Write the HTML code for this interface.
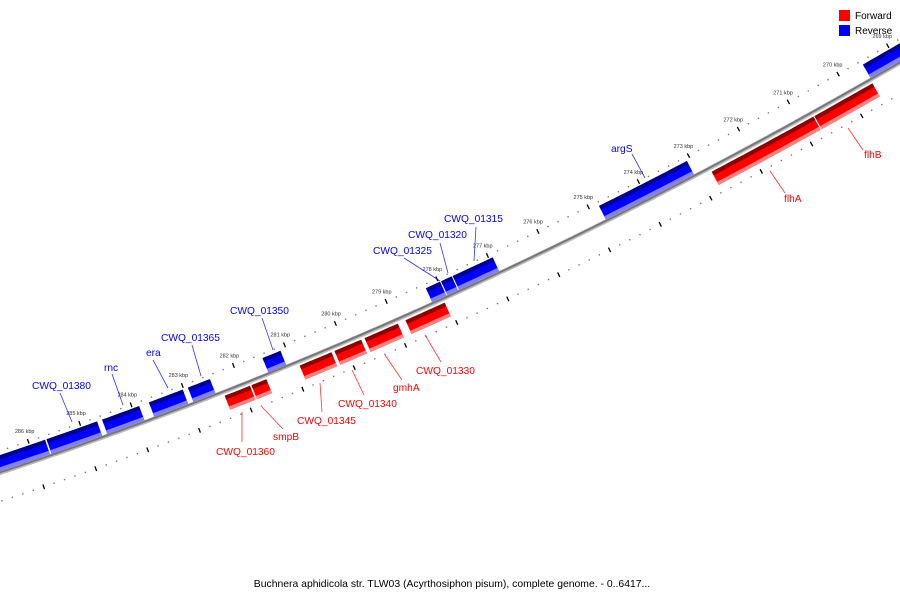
<!DOCTYPE html>
<html><head><meta charset="utf-8"><style>
html,body{margin:0;padding:0;background:#fff}
svg{display:block;font-family:"Liberation Sans","DejaVu Sans",sans-serif}
</style></head><body>
<svg id="map" width="900" height="600" viewBox="0 0 900 600">
<g id="ticks"></g>
<g id="backbone"></g>
<g id="genes"></g>
<g id="labels"></g>
<g>
<rect x="839" y="10" width="11" height="11" fill="#ff0000"/>
<text x="855" y="19" font-size="10" fill="#000">Forward</text>
<rect x="839" y="25" width="11" height="11" fill="#0000ff"/>
<text x="855" y="34" font-size="10" fill="#000">Reverse</text>
</g>
<text x="452" y="587" font-size="10.4" text-anchor="middle" fill="#000">Buchnera aphidicola str. TLW03 (Acyrthosiphon pisum), complete genome. - 0..6417...</text>
</svg>
<script>
// data (kbp)
const revNames=["","CWQ_01380","rnc","era","CWQ_01365","CWQ_01350","CWQ_01325","CWQ_01320","CWQ_01315","argS",""];
const revStart=[286.7,285.67,284.59,283.68,282.92,281.46,278.25,277.95,277.72,274.82,269.54];
const revEnd=[285.7,284.69,283.87,283.02,282.49,281.11,277.97,277.74,276.93,273.07,268.8];
const fwdNames=["CWQ_01360","smpB","CWQ_01345","CWQ_01340","gmhA","CWQ_01330","flhA","flhB"];
const fwdStart=[282.35,281.83,280.89,280.21,279.62,278.82,272.77,270.72];
const fwdEnd=[281.86,281.54,280.27,279.69,278.97,278.05,270.74,269.56];
const tickLabels=[286,285,284,283,282,281,280,279,278,277,276,275,274,273,272,271,270,269];

const NS="http://www.w3.org/2000/svg";
const A=473,B=-0.3315,C=-0.000138;
function bx(k){const d=286-k;return 35+51.8*d-0.06*d*d;}
function pt(k,r){const x=bx(k);const y=A+B*x+C*x*x;const m=B+2*C*x;const n=Math.sqrt(1+m*m);return [x+r*m/n,y-r/n];}
function mk(tag,attrs,parent){const e=document.createElementNS(NS,tag);for(const a in attrs)e.setAttribute(a,attrs[a]);parent.appendChild(e);return e;}
function band(k0,k1,r0,r1){const pts=[];const n=Math.max(4,Math.ceil(Math.abs(k1-k0)*10));for(let i=0;i<=n;i++){pts.push(pt(k0+(k1-k0)*i/n,r1));}for(let i=n;i>=0;i--){pts.push(pt(k0+(k1-k0)*i/n,r0));}return pts.map(p=>p[0].toFixed(1)+","+p[1].toFixed(1)).join(" ");}

// backbone
const bb=document.getElementById('backbone');
let d1="";for(let k=288;k>=267;k-=0.1){const p=pt(k,0);d1+=(d1?"L":"M")+p[0].toFixed(1)+","+p[1].toFixed(1);}
let e=mk('path',{d:d1,stroke:'#bbbbbb','stroke-width':4,fill:'none'},bb);


e=mk('path',{d:d1,stroke:'#777777','stroke-width':2,fill:'none',transform:'translate(0,-0.6)'},bb);



// tick rings
const tg=document.getElementById('ticks');
for(let i=0;i<=100;i++){const k=288-i*0.2;const major=Math.abs(k-Math.round(k))<0.01;
 [21,-27].forEach(r=>{
  if(major){const a=pt(k,r+2.5),b=pt(k,r-2.5);e=mk('line',{x1:a[0],y1:a[1],x2:b[0],y2:b[1],stroke:'#000','stroke-width':1.3},tg);
   
   }
  else{const a=pt(k,r);e=mk('circle',{cx:a[0],cy:a[1],r:0.8,fill:'#777'},tg);
   
   }
 });}
tickLabels.forEach(k=>{const p=pt(k,32);e=mk('text',{x:p[0],y:p[1]+2,'font-size':5.5,'text-anchor':'middle',fill:'#333'},tg);e.textContent=k+" kbp";
 
 });

// genes
const gg=document.getElementById('genes');
function gene(s,en,rIn,rOut,cols,name){
 const g=mk('g',{},gg);
 
 
 const lo=Math.min(rIn,rOut),hi=Math.max(rIn,rOut);
 mk('polygon',{points:band(s,en,lo,hi),fill:cols[1]},g);
 mk('polygon',{points:band(s,en,hi-4,hi),fill:cols[0]},g);
 mk('polygon',{points:band(s,en,lo,lo+3.5),fill:cols[2]},g);
}
revStart.forEach((s,i)=>gene(s,revEnd[i],2,17,['#00008b','#0000ff','#8080ff'],revNames[i]));
fwdStart.forEach((s,i)=>gene(s,fwdEnd[i],-19,-4,['#8b0000','#ff0000','#ff8080'],fwdNames[i]));

// labels (annotation positions)
const lab=[
["CWQ_01380",32,389,60,393,72,422,'#0000ff'],["rnc",104,371,112,374,123,405,'#0000ff'],["era",146,356,153,360,168,388,'#0000ff'],
["CWQ_01365",161,341,192,345,201,376,'#0000ff'],["CWQ_01350",230,314,262,318,273,350,'#0000ff'],["CWQ_01325",373,254,404,258,440,281,'#0000ff'],
["CWQ_01320",408,238,440,243,448,273,'#0000ff'],["CWQ_01315",444,222,476,227,474,261,'#0000ff'],["argS",611,152,632,154,645,178,'#0000ff'],
["CWQ_01360",216,455,242,412,242,442,'#ff0000'],["smpB",273,440,262,407,283,429,'#ff0000'],["CWQ_01345",297,424,320,383,322,412,'#ff0000'],
["CWQ_01340",338,407,352,370,364,395,'#ff0000'],["gmhA",393,391,385,355,402,380,'#ff0000'],["CWQ_01330",416,374,425,335,441,362,'#ff0000'],
["flhA",784,202,770,171,785,193,'#ff0000'],["flhB",864,158,848,128,863,150,'#ff0000']];
const lg=document.getElementById('labels');
lab.forEach(l=>{e=mk('line',{x1:l[3],y1:l[4],x2:l[5],y2:l[6],stroke:l[7],'stroke-width':0.8,opacity:0.8},lg);
 
 
 const t=mk('text',{x:l[1],y:l[2],'font-size':10.2,fill:l[7]},lg);t.textContent=l[0];
 
 });
</script>
</body></html>
